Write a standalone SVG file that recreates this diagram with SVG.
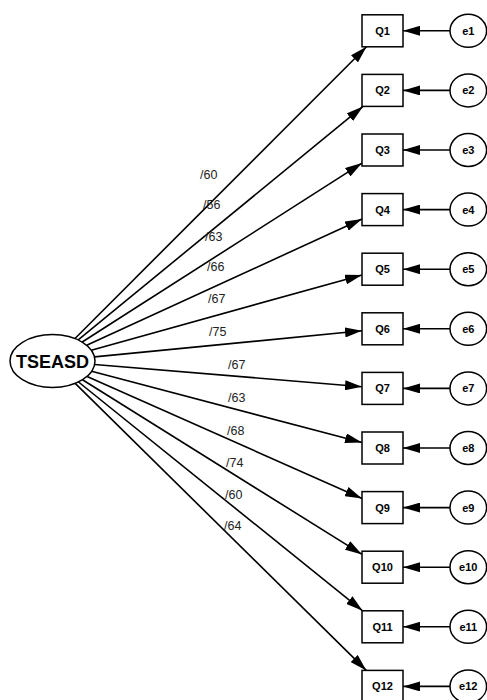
<svg xmlns="http://www.w3.org/2000/svg" width="487" height="700" viewBox="0 0 487 700">
<defs>
<marker id="ah" markerUnits="userSpaceOnUse" markerWidth="17" markerHeight="10" refX="17" refY="5" orient="auto">
<path d="M0,0 L17,5 L0,10 z" fill="#000"/>
</marker>
<style>
.lat{fill:#fff;stroke:#000;stroke-width:1.5}
.obs{fill:#fff;stroke:#000;stroke-width:1.5}
.err{fill:#fff;stroke:#000;stroke-width:1.5}
.ed{stroke:#000;stroke-width:1.6;fill:none;marker-end:url(#ah)}
.nt{font-family:"Liberation Sans",Arial,sans-serif;font-weight:bold;font-size:11px;text-anchor:middle;fill:#000}
.big{font-family:"Liberation Sans",Arial,sans-serif;font-weight:bold;font-size:18px;text-anchor:middle;fill:#000}
.lb{font-family:"Liberation Sans",Arial,sans-serif;font-size:12.5px;fill:#222}
</style>
</defs>
<rect width="487" height="700" fill="#fff"/>
<g id="connectors">
<line class="ed" x1="75.0" y1="338.5" x2="366.5" y2="46.8"/>
<line class="ed" x1="78.2" y1="339.9" x2="363.0" y2="106.4"/>
<line class="ed" x1="82.2" y1="342.0" x2="362" y2="163.1"/>
<line class="ed" x1="86.7" y1="345.3" x2="362" y2="219.0"/>
<line class="ed" x1="91.3" y1="350.2" x2="362" y2="274.9"/>
<line class="ed" x1="94.5" y1="356.9" x2="362" y2="330.8"/>
<line class="ed" x1="94.6" y1="364.5" x2="362" y2="386.7"/>
<line class="ed" x1="91.6" y1="371.3" x2="362" y2="442.6"/>
<line class="ed" x1="87.1" y1="376.4" x2="362" y2="498.5"/>
<line class="ed" x1="82.5" y1="379.8" x2="362" y2="554.4"/>
<line class="ed" x1="78.5" y1="382.0" x2="362.6" y2="610.8"/>
<line class="ed" x1="75.2" y1="383.4" x2="366.3" y2="670.4"/>
<line class="ed" x1="450" y1="30.8" x2="403" y2="30.8"/>
<line class="ed" x1="450" y1="90.4" x2="403" y2="90.4"/>
<line class="ed" x1="450" y1="150.0" x2="403" y2="150.0"/>
<line class="ed" x1="450" y1="209.6" x2="403" y2="209.6"/>
<line class="ed" x1="450" y1="269.2" x2="403" y2="269.2"/>
<line class="ed" x1="450" y1="328.8" x2="403" y2="328.8"/>
<line class="ed" x1="450" y1="388.4" x2="403" y2="388.4"/>
<line class="ed" x1="450" y1="448.0" x2="403" y2="448.0"/>
<line class="ed" x1="450" y1="507.6" x2="403" y2="507.6"/>
<line class="ed" x1="450" y1="567.2" x2="403" y2="567.2"/>
<line class="ed" x1="450" y1="626.8" x2="403" y2="626.8"/>
<line class="ed" x1="450" y1="686.4" x2="403" y2="686.4"/>
<text class="lb" x="200" y="179">/60</text>
<text class="lb" x="203" y="209">/56</text>
<text class="lb" x="205" y="241">/63</text>
<text class="lb" x="207" y="271">/66</text>
<text class="lb" x="208" y="303">/67</text>
<text class="lb" x="209" y="336">/75</text>
<text class="lb" x="228" y="369">/67</text>
<text class="lb" x="228" y="402">/63</text>
<text class="lb" x="227" y="435">/68</text>
<text class="lb" x="226" y="467">/74</text>
<text class="lb" x="225" y="499">/60</text>
<text class="lb" x="224" y="530">/64</text>
</g>
<g id="TSEASD"><ellipse class="lat" cx="52.5" cy="361" rx="42.5" ry="26.5"/><text class="big" x="52.5" y="367.5">TSEASD</text></g>
<g id="Q1"><rect class="obs" x="362" y="14.8" width="41" height="32"/><text class="nt" x="382.5" y="34.8">Q1</text></g>
<g id="Q2"><rect class="obs" x="362" y="74.4" width="41" height="32"/><text class="nt" x="382.5" y="94.4">Q2</text></g>
<g id="Q3"><rect class="obs" x="362" y="134.0" width="41" height="32"/><text class="nt" x="382.5" y="154.0">Q3</text></g>
<g id="Q4"><rect class="obs" x="362" y="193.6" width="41" height="32"/><text class="nt" x="382.5" y="213.6">Q4</text></g>
<g id="Q5"><rect class="obs" x="362" y="253.2" width="41" height="32"/><text class="nt" x="382.5" y="273.2">Q5</text></g>
<g id="Q6"><rect class="obs" x="362" y="312.8" width="41" height="32"/><text class="nt" x="382.5" y="332.8">Q6</text></g>
<g id="Q7"><rect class="obs" x="362" y="372.4" width="41" height="32"/><text class="nt" x="382.5" y="392.4">Q7</text></g>
<g id="Q8"><rect class="obs" x="362" y="432.0" width="41" height="32"/><text class="nt" x="382.5" y="452.0">Q8</text></g>
<g id="Q9"><rect class="obs" x="362" y="491.6" width="41" height="32"/><text class="nt" x="382.5" y="511.6">Q9</text></g>
<g id="Q10"><rect class="obs" x="362" y="551.2" width="41" height="32"/><text class="nt" x="382.5" y="571.2">Q10</text></g>
<g id="Q11"><rect class="obs" x="362" y="610.8" width="41" height="32"/><text class="nt" x="382.5" y="630.8">Q11</text></g>
<g id="Q12"><rect class="obs" x="362" y="670.4" width="41" height="32"/><text class="nt" x="382.5" y="690.4">Q12</text></g>
<g id="e1"><ellipse class="err" cx="468.3" cy="30.8" rx="18.3" ry="16.5"/><text class="nt" x="468.3" y="34.8">e1</text></g>
<g id="e2"><ellipse class="err" cx="468.3" cy="90.4" rx="18.3" ry="16.5"/><text class="nt" x="468.3" y="94.4">e2</text></g>
<g id="e3"><ellipse class="err" cx="468.3" cy="150.0" rx="18.3" ry="16.5"/><text class="nt" x="468.3" y="154.0">e3</text></g>
<g id="e4"><ellipse class="err" cx="468.3" cy="209.6" rx="18.3" ry="16.5"/><text class="nt" x="468.3" y="213.6">e4</text></g>
<g id="e5"><ellipse class="err" cx="468.3" cy="269.2" rx="18.3" ry="16.5"/><text class="nt" x="468.3" y="273.2">e5</text></g>
<g id="e6"><ellipse class="err" cx="468.3" cy="328.8" rx="18.3" ry="16.5"/><text class="nt" x="468.3" y="332.8">e6</text></g>
<g id="e7"><ellipse class="err" cx="468.3" cy="388.4" rx="18.3" ry="16.5"/><text class="nt" x="468.3" y="392.4">e7</text></g>
<g id="e8"><ellipse class="err" cx="468.3" cy="448.0" rx="18.3" ry="16.5"/><text class="nt" x="468.3" y="452.0">e8</text></g>
<g id="e9"><ellipse class="err" cx="468.3" cy="507.6" rx="18.3" ry="16.5"/><text class="nt" x="468.3" y="511.6">e9</text></g>
<g id="e10"><ellipse class="err" cx="468.3" cy="567.2" rx="18.3" ry="16.5"/><text class="nt" x="468.3" y="571.2">e10</text></g>
<g id="e11"><ellipse class="err" cx="468.3" cy="626.8" rx="18.3" ry="16.5"/><text class="nt" x="468.3" y="630.8">e11</text></g>
<g id="e12"><ellipse class="err" cx="468.3" cy="686.4" rx="18.3" ry="16.5"/><text class="nt" x="468.3" y="690.4">e12</text></g>
</svg>
